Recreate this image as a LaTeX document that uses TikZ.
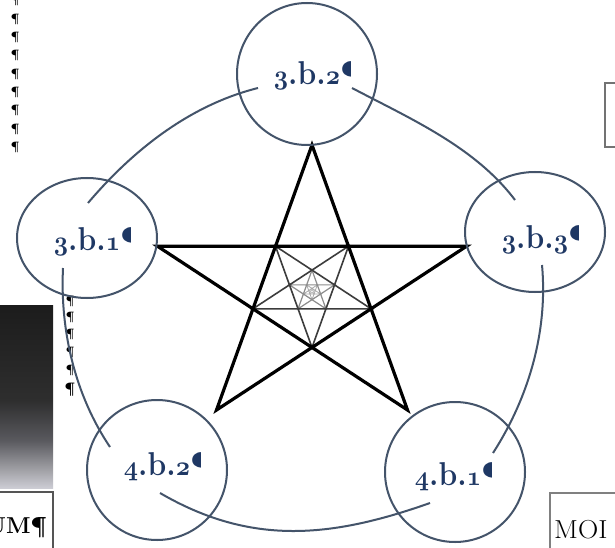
\documentclass[tikz,border=0pt]{standalone}
\usetikzlibrary{calc,shapes.geometric}
\definecolor{navy}{HTML}{1F3864}
\definecolor{ringc}{HTML}{44546A}
\definecolor{lvA}{HTML}{3C3C3C}
\definecolor{lvB}{HTML}{8C8C8C}
\definecolor{lvC}{HTML}{A8A8A8}
\definecolor{lvD}{HTML}{BBBBBB}
\definecolor{boxc}{HTML}{555555}
\pgfdeclareverticalshading{gbox}{100bp}{rgb(0bp)=(0.80,0.80,0.83); rgb(25bp)=(0.80,0.80,0.83); rgb(30bp)=(0.63,0.63,0.65); rgb(38bp)=(0.35,0.35,0.37); rgb(49bp)=(0.18,0.18,0.18); rgb(75bp)=(0.11,0.11,0.11); rgb(100bp)=(0.11,0.11,0.11)}
\newcommand\pstar[6]{%
  \draw[#6] ({#1+#3*cos(#5)},{#2-#4*sin(#5)}) -- ({#1+#3*cos(#5+144)},{#2-#4*sin(#5+144)}) -- ({#1+#3*cos(#5+288)},{#2-#4*sin(#5+288)}) -- ({#1+#3*cos(#5+72)},{#2-#4*sin(#5+72)}) -- ({#1+#3*cos(#5+216)},{#2-#4*sin(#5+216)}) -- cycle;}
\newcommand\osnum[1]{{\usefont{OML}{cmm}{b}{it}#1}}
\newcommand\lbltext[2]{\osnum{#1}.b.\osnum{#2}}
\begin{document}
\begin{tikzpicture}[x=1pt,y=-1pt,
  ringnode/.style={shape=ellipse, draw=ringc, line width=2pt, minimum width=140pt, minimum height=120pt, inner sep=0pt},
  lbl/.style={text=navy, font=\fontsize{30}{32}\selectfont\bfseries, inner sep=0pt, yscale=1.1},
  conn/.style={draw=ringc, line width=2pt},
  pil/.style={font=\fontsize{12}{12}\selectfont\bfseries, inner sep=0pt, text=black},
  boxline/.style={draw=boxc, line width=1.2pt}]
\clip (0,0) rectangle (615,548);
\fill[white] (0,0) rectangle (615,548);

% stray formatting marks on the left
\foreach \i in {0,...,8} \node[pil] (pa\i) at (15,{1+18.3*\i}) {¶};
\node[pil] (pb0) at (70,301) {¶};
\node[pil] (pb1) at (70,317) {¶};
\node[pil] (pb2) at (70,334) {¶};
\node[pil] (pb3) at (70,352) {¶};
\node[pil] (pb4) at (70,370) {¶};
\node[pil, font=\fontsize{15}{15}\selectfont\bfseries] (pb5) at (70,390) {¶};

% gradient box and clipped boxes at the edges
\shade[shading=gbox] (-1,305) rectangle (53,488);
\draw[boxline] (-2,492) rectangle (53,560);
\node[anchor=base east, inner sep=0pt, font=\fontsize{23}{23}\selectfont\bfseries] (um) at (47,533) {UM¶};
\draw[boxline, draw=gray] (550,493) rectangle (640,560);
\node[anchor=base west, inner sep=0pt, font=\fontsize{26}{26}\selectfont, xscale=1.08] (moi) at (554,538) {MOI};
\draw[boxline, draw=gray!90!black] (605,83) rectangle (640,147);

% nested pentagrams
\pstar{312}{291.5}{3.46}{3.12}{90}{draw=lvD, line width=0.5pt}
\pstar{312}{291.5}{9.06}{8.17}{270}{draw=lvC, line width=0.8pt}
\pstar{312}{291.5}{23.7}{21.4}{90}{draw=lvB, line width=1.2pt}
\pstar{312}{291.5}{62.1}{56.0}{270}{draw=lvA, line width=1.6pt}
\pstar{312}{291.5}{162.5}{146.5}{90}{draw=black, line width=3.2pt}

% circles
\node[ringnode, minimum height=142pt] (n32) at (307,74) {};
\node[ringnode] (n31) at (87,238) {};
\node[ringnode] (n33) at (535,232) {};
\node[ringnode, minimum height=140pt] (n42) at (157,470) {};
\node[ringnode, minimum height=140pt] (n41) at (455,472) {};

% connector end points
\coordinate (a1s) at (88,203);  \coordinate (a1e) at (258,88);
\coordinate (a2s) at (352,88);  \coordinate (a2e) at (515,200);
\coordinate (a3s) at (542,265); \coordinate (a3e) at (493,453);
\coordinate (a4s) at (430,503); \coordinate (a4e) at (160,493);
\coordinate (a5s) at (110,447); \coordinate (a5e) at (63,268);
\draw[conn] (a1s) .. controls (133,150) and (190,105) .. (a1e);
\draw[conn] (a2s) .. controls (411,119) and (475,147) .. (a2e);
\draw[conn] (a3s) .. controls (548,331) and (529,397) .. (a3e);
\draw[conn] (a4s) .. controls (331,538) and (251,546) .. (a4e);
\draw[conn] (a5s) .. controls (75,395) and (60,331) .. (a5e);

% labels
\node[lbl, anchor=base] (t32) at (307,85) {\lbltext{3}{2}};
\node[lbl, anchor=base] (t31) at (87,250) {\lbltext{3}{1}};
\node[lbl, anchor=base] (t33) at (535,248) {\lbltext{3}{3}};
\node[lbl, anchor=base] (t42) at (157,475) {\lbltext{4}{2}};
\node[lbl, anchor=base] (t41) at (448,485) {\lbltext{4}{1}};
\foreach \t in {t32,t31,t33,t42,t41} {
  \begin{scope}
    \clip ($(\t.base east)+(0,12)$) rectangle ($(\t.base east)+(10,-32)$);
    \node[lbl, anchor=base west] at (\t.base east) {¶};
  \end{scope}
}
\end{tikzpicture}
\end{document}
